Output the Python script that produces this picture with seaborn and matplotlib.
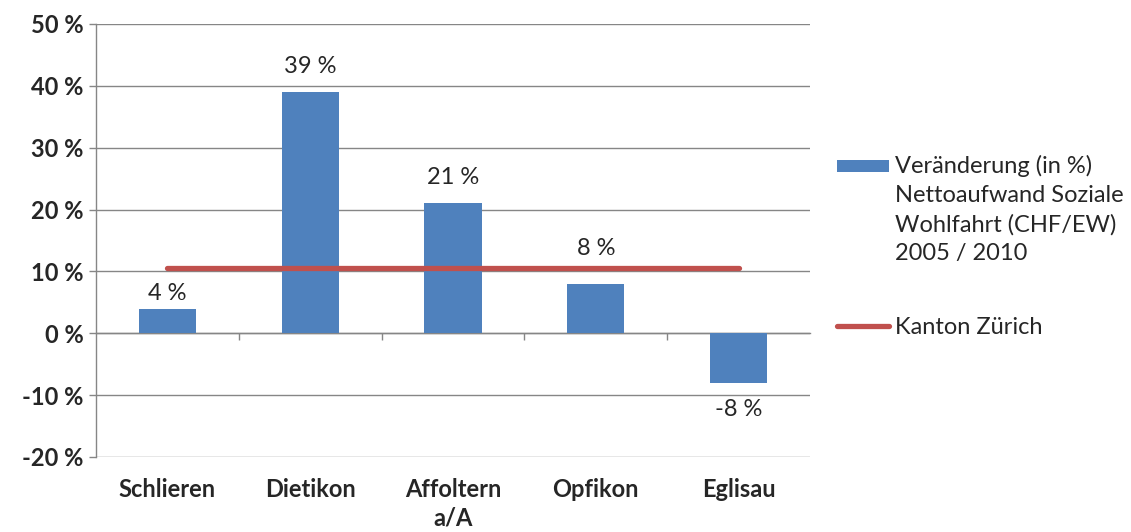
import numpy as np
import pandas as pd
import seaborn as sns
import matplotlib.pyplot as plt
from matplotlib.patches import Rectangle
from matplotlib.lines import Line2D
from matplotlib.legend_handler import HandlerPatch
from matplotlib.ticker import FuncFormatter

# data
gemeinden = ["Schlieren", "Dietikon", "Affoltern\na/A", "Opfikon", "Eglisau"]
veraenderung = [4, 39, 21, 8, -8]
kanton_zh = [10.5, 10.5, 10.5, 10.5, 10.5]
bar_name = "Veränderung (in %)\nNettoaufwand Soziale\nWohlfahrt (CHF/EW)\n2005 / 2010"
line_name = "Kanton Zürich"

blue = "#4F81BD"
red = "#C0504D"
grey = "#868686"
fs = 17
# labels were nudged around the red line in the original
label_pad = [3, 11, 11, 18, 12]

sns.set_theme(style="white")
plt.rcParams["font.family"] = ["Lato", "DejaVu Sans"]

df = pd.DataFrame({"Gemeinde": gemeinden, "Wert": veraenderung})

fig = plt.figure(figsize=(11.31, 5.32), dpi=100)
ax = fig.add_axes([0.0849, 0.141, 0.6313, 0.814])

sns.barplot(data=df, x="Gemeinde", y="Wert", color=blue, saturation=1,
            width=0.4, linewidth=0, edgecolor="none", ax=ax, zorder=3)
sns.lineplot(x=np.arange(len(kanton_zh)), y=kanton_zh, color=red, lw=3.8,
             solid_capstyle="round", ax=ax, zorder=4)

for bar, v, pad in zip(ax.patches, veraenderung, label_pad):
    x = bar.get_x() + bar.get_width() / 2
    ax.annotate(f"{v} %", (x, v), xytext=(0, pad if v >= 0 else -pad),
                textcoords="offset points", ha="center",
                va="bottom" if v >= 0 else "top", fontsize=fs)

ax.set_xlim(-0.5, len(gemeinden) - 0.5)
ax.set_ylim(-20, 50)
ax.set_yticks(range(-20, 51, 10))
ax.yaxis.set_major_formatter(FuncFormatter(lambda v, p: f"{v:.0f} %"))
ax.tick_params(axis="y", direction="out", length=5, width=1, color=grey,
               labelsize=fs, pad=4, left=True)
for t in ax.get_yticklabels():
    t.set_fontweight("bold")
ax.grid(axis="y", color=grey, lw=1, zorder=0)
ax.set_axisbelow(True)

# category axis sits on the zero line, ticks between categories
ax.spines["bottom"].set_position(("data", 0))
for s in ["top", "right"]:
    ax.spines[s].set_visible(False)
for s in ["left", "bottom"]:
    ax.spines[s].set_color(grey)
    ax.spines[s].set_linewidth(1)
ax.set_xticks(np.arange(len(gemeinden) - 1) + 0.5)
ax.set_xticklabels([])
ax.tick_params(axis="x", direction="out", length=5, width=1, color=grey, bottom=True)
ax.set_xlabel("")
ax.set_ylabel("")

sec = ax.secondary_xaxis(0)
sec.set_xticks(np.arange(len(gemeinden)))
sec.set_xticklabels(gemeinden, fontweight="bold", fontsize=fs, linespacing=1.3)
sec.tick_params(length=0, pad=15)
sec.spines["bottom"].set_visible(False)


class TopPatch(HandlerPatch):
    # legend swatch sits next to the first text line, like Excel does it
    def create_artists(self, legend, orig_handle, xdescent, ydescent,
                       width, height, fontsize, trans):
        p = Rectangle((-xdescent, 33), width, 9, facecolor=blue,
                      edgecolor="none", transform=trans)
        return [p]


handles = [Rectangle((0, 0), 1, 1, color=blue),
           Line2D([], [], color=red, lw=3.8, solid_capstyle="round")]
leg = fig.legend(handles, [bar_name, line_name], loc="upper left",
                 bbox_to_anchor=(0.721, 0.748), frameon=False, fontsize=fs,
                 handlelength=2.2, handletextpad=0.25, labelspacing=2.25,
                 handler_map={Rectangle: TopPatch()})
for t in leg.get_texts():
    t.set_linespacing(1.45)

fig.savefig("out.png", dpi=100)
